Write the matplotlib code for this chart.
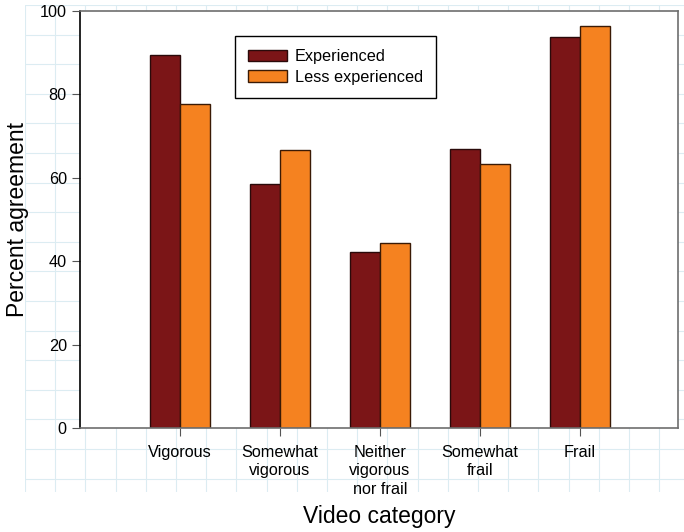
import numpy as np
import matplotlib.pyplot as plt
from matplotlib.patches import Patch

plt.rcParams['font.family'] = ['Liberation Sans', 'DejaVu Sans']

# data
categories = ['Vigorous', 'Somewhat\nvigorous', 'Neither\nvigorous\nnor frail', 'Somewhat\nfrail', 'Frail']
experienced = [89.4, 58.5, 42.2, 66.9, 93.8]
less_experienced = [77.7, 66.6, 44.4, 63.4, 96.3]

fig = plt.figure(figsize=(6.84, 5.32), dpi=100)

# faint page grid behind the plot
bg = fig.add_axes([25 / 684, 40 / 532, 659 / 684, 487 / 532], zorder=0)
bg.set_xlim(0, 659)
bg.set_ylim(487, 0)
bg.set_xticks(np.arange(0, 660, 30.2))
bg.set_yticks(np.arange(0, 488, 29.6))
bg.grid(True, color='#dcecf2', linewidth=0.8)
bg.tick_params(length=0, labelleft=False, labelbottom=False)
for s in bg.spines.values():
    s.set_visible(False)
bg.patch.set_alpha(0)

ax = fig.add_axes([80 / 684, 104 / 532, 598 / 684, 417 / 532], zorder=1)
x = np.arange(1, len(categories) + 1)
w = 0.3
ax.bar(x - w / 2, experienced, w, color='#7b1517', edgecolor='#2a0a0a', linewidth=1, label='Experienced')
ax.bar(x + w / 2, less_experienced, w, color='#f58220', edgecolor='#3a1a05', linewidth=1, label='Less experienced')

ax.set_xlim(0, 5.98)
ax.set_ylim(0, 100)
ax.set_yticks([0, 20, 40, 60, 80, 100])
ax.set_xticks(x)
ax.set_xticklabels(categories, fontsize=11.7, linespacing=1.3)
ax.tick_params(axis='y', labelsize=11.7, length=6, color='#555555', direction='out')
ax.tick_params(axis='x', length=6, color='#555555', direction='out', pad=6)

for side in ['top', 'right', 'bottom']:
    ax.spines[side].set_color('#6e6e6e')
    ax.spines[side].set_linewidth(1.2)
ax.spines['left'].set_color('black')
ax.spines['left'].set_linewidth(1.2)

ax.set_ylabel('Percent agreement', fontsize=16.5, labelpad=8)
ax.set_xlabel('Video category', fontsize=16.5, labelpad=6)

handles = [Patch(facecolor='#7b1517', edgecolor='#2a0a0a', label='Experienced'),
           Patch(facecolor='#f58220', edgecolor='#3a1a05', label='Less experienced')]
leg = ax.legend(handles=handles, loc='upper left', bbox_to_anchor=(0.259, 0.94), fontsize=11.7,
                fancybox=False, edgecolor='black', framealpha=1, handlelength=2.4, handleheight=0.7,
                borderpad=0.8, labelspacing=0.35, handletextpad=0.5, borderaxespad=0)
leg.get_frame().set_linewidth(1)

fig.savefig('out.png', dpi=100)
